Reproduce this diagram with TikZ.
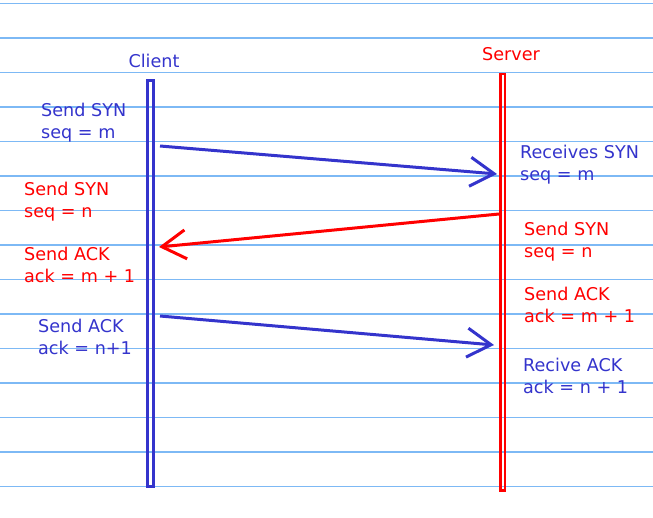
\documentclass[tikz,border=0pt]{standalone}
\usepackage{fontspec}
\setmainfont{DejaVu Sans}
\usetikzlibrary{arrows.meta}
\definecolor{penblue}{RGB}{52,52,204}
\definecolor{penred}{RGB}{255,0,0}
\definecolor{rule}{RGB}{125,185,245}
\tikzset{
  lbl/.style={anchor=west, inner sep=0pt, align=left, font=\fontsize{17.6}{22}\selectfont},
  msg/.style={line width=3pt, -{Straight Barb[length=24pt,width=29pt]}}
}
\begin{document}
\begin{tikzpicture}[x=1pt, y=-1pt]
	\useasboundingbox (0,0) rectangle (653,517);

% 1. ruled paper
	\foreach \i in {0,...,14} {
		\draw[rule, line width=1.1pt] (0,{3.5+34.5*\i}) -- (653,{3.5+34.5*\i});
	}

% 2. life lines
	\draw[penblue, line width=3pt] (147.5,80) rectangle (153.5,486.5);
	\draw[penred, line width=2.5pt] (500.5,74) rectangle (505,490.5);
	\node[lbl, anchor=center, penblue] (client) at (154,61) {Client};
	\node[lbl, anchor=center, penred] (server) at (511,54) {Server};

% 3. end points on the life lines
	\coordinate (c1) at (160,146);
	\coordinate (s1) at (497,174);
	\coordinate (s2) at (499,214);
	\coordinate (c2) at (159,247);
	\coordinate (c3) at (160,316);
	\coordinate (s3) at (494,345);

% 4. messages
	\draw[msg, penblue] (c1) -- (s1);
	\draw[msg, penred] (s2) -- (c2);
	\draw[msg, penblue] (c3) -- (s3);

% 5. client side texts
	\node[lbl, penblue] (csyn) at (41,122.5) {Send SYN\\seq = m};
	\node[lbl, penred] (crsyn) at (24,201.5) {Send SYN\\seq = n};
	\node[lbl, penred] (crack) at (24,264.5) {Send ACK\\ack = m + 1};
	\node[lbl, penblue] (cack) at (38,336.5) {Send ACK\\ack = n+1};

% 6. server side texts
	\node[lbl, penblue] (ssyn) at (520,165) {Receives SYN\\seq = m};
	\node[lbl, penred] (srsyn) at (524,242) {Send SYN\\seq = n};
	\node[lbl, penred] (srack) at (524,305) {Send ACK\\ack = m + 1};
	\node[lbl, penblue] (sack) at (523,375.5) {Recive ACK\\ack = n + 1};
\end{tikzpicture}
\end{document}
